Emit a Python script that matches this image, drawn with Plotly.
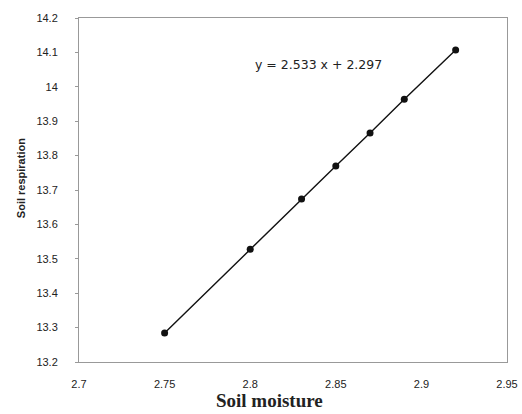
import plotly.graph_objects as go

moisture = [2.75, 2.80, 2.83, 2.85, 2.87, 2.89, 2.92]
respiration = [13.284, 13.528, 13.674, 13.770, 13.866, 13.964, 14.107]
x_ticks = [2.7, 2.75, 2.8, 2.85, 2.9, 2.95]
y_ticks = [13.2, 13.3, 13.4, 13.5, 13.6, 13.7, 13.8, 13.9, 14.0, 14.1, 14.2]
y_ticklabels = ["13.2", "13.3", "13.4", "13.5", "13.6", "13.7", "13.8", "13.9", "14", "14.1", "14.2"]
equation = "y = 2.533 x + 2.297"
x_title = "Soil moisture"
y_title = "Soil respiration"

fig = go.Figure()
fig.add_trace(go.Scatter(
    x=moisture, y=respiration, mode="lines+markers",
    line=dict(color="#111111", width=1.4),
    marker=dict(color="#111111", size=7),
    showlegend=False,
))
fig.add_annotation(
    x=2.840, y=14.066, xref="x", yref="y", text=equation, showarrow=False,
    font=dict(family="DejaVu Sans", size=12.5, color="#222222"),
    xanchor="center", yanchor="middle",
)
fig.add_annotation(
    x=0.446, y=-0.149, xref="paper", yref="paper", text="<b>" + x_title + "</b>",
    showarrow=False, xanchor="center", yanchor="bottom",
    font=dict(family="Liberation Serif, Times New Roman", size=19, color="#222222"),
)
fig.add_annotation(
    x=-0.135, y=0.535, xref="paper", yref="paper", text="<b>" + y_title + "</b>",
    showarrow=False, xanchor="center", yanchor="middle", textangle=-90,
    font=dict(family="Liberation Sans, Arial", size=11, color="#222222"),
)
fig.update_layout(
    width=522, height=414, autosize=False,
    margin=dict(l=79, r=15, t=18, b=52, autoexpand=False),
    paper_bgcolor="white", plot_bgcolor="white",
    xaxis=dict(
        range=[2.7, 2.95], tickvals=x_ticks, ticktext=[str(v) for v in x_ticks],
        showgrid=False, zeroline=False, showline=True, linecolor="#999999", linewidth=1,
        mirror=True, ticks="", automargin=False, ticklabelstandoff=12,
        tickfont=dict(family="Liberation Sans, Arial", size=11, color="#222222"),
    ),
    yaxis=dict(
        range=[13.2, 14.2], tickvals=y_ticks, ticktext=y_ticklabels,
        showgrid=False, zeroline=False, showline=True, linecolor="#999999", linewidth=1,
        mirror=True, ticks="outside", ticklen=3, tickcolor="#999999", automargin=False,
        ticklabelstandoff=15,
        tickfont=dict(family="Liberation Sans, Arial", size=11, color="#222222"),
    ),
)
fig.write_html("out.html")
